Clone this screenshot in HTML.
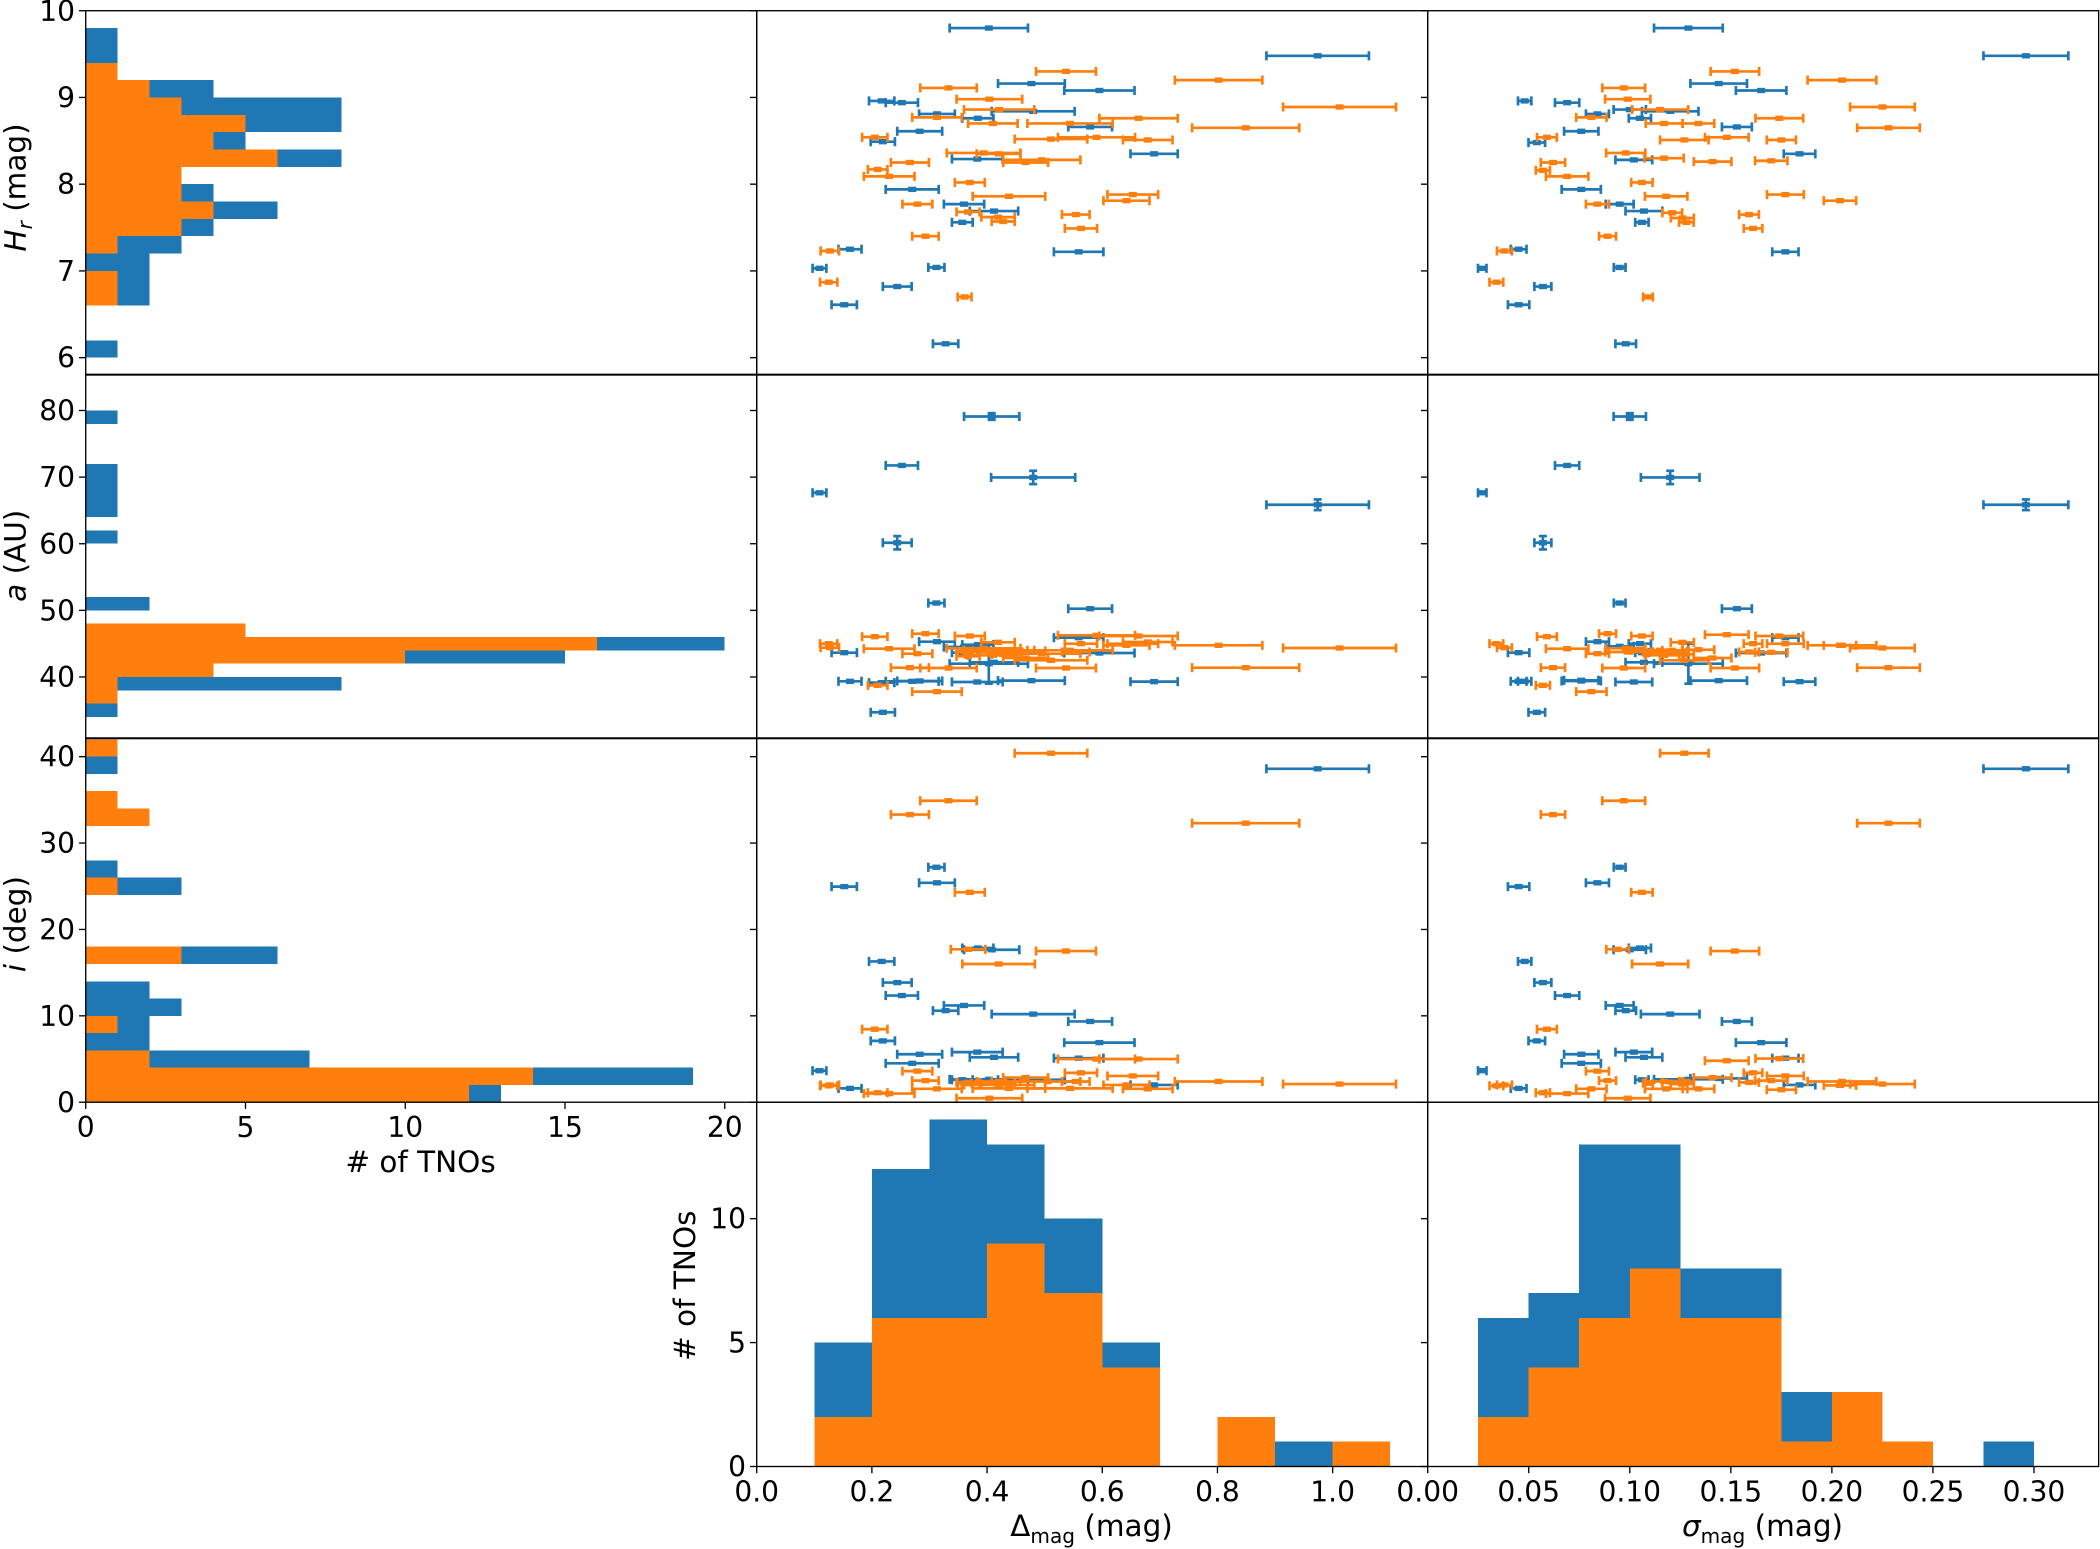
<!DOCTYPE html>
<html><head><meta charset="utf-8">
<style>
html,body{margin:0;padding:0;background:#fff;}
svg{display:block;}
text{font-family:"DejaVu Sans","Liberation Sans",sans-serif;fill:#000;}
</style></head>
<body>
<svg id="fig" xmlns="http://www.w3.org/2000/svg" width="2100" height="1549" viewBox="0 0 1568 1156.6">
<rect x="0" y="0" width="1568" height="1156.6" fill="#fff"/>
</svg>
<script>
// ---------- histogram data ----------
const hrBinStart = [6.0,6.6,6.8,7.0,7.2,7.4,7.6,7.8,8.0,8.2,8.4,8.6,8.8,9.0,9.2,9.4,9.6];
const hrBlue     = [1,2,2,2,3,4,6,4,3,8,5,8,8,4,1,1,1];
const hrOrange   = [0,1,1,0,1,3,4,3,3,6,4,5,3,2,1,0,0];
const aBinStart  = [34,36,38,40,42,44,46,50,60,64,66,68,70,78];
const aBlue      = [1,1,8,4,15,20,5,2,1,1,1,1,1,1];
const aOrange    = [0,1,1,4,10,16,5,0,0,0,0,0,0,0];
const iBinStart  = [0,2,4,6,8,10,12,16,24,26,32,34,38,40];
const iBlue      = [13,19,7,2,2,3,2,6,3,1,2,1,1,1];
const iOrange    = [12,14,2,0,1,0,0,3,1,0,2,1,0,1];
const dmBinStart = [0.1,0.2,0.3,0.4,0.5,0.6,0.7,0.8,0.9,1.0];
const dmBlue     = [5,12,14,13,10,5,0,2,1,1];
const dmOrange   = [2,6,6,9,7,4,0,2,0,1];
const sgBinStart = [0.025,0.05,0.075,0.1,0.125,0.15,0.175,0.2,0.225,0.25,0.275];
const sgBlue     = [6,7,13,13,8,8,3,3,1,0,1];
const sgOrange   = [2,4,6,8,6,6,1,3,1,0,0];
// ---------- scatter data: [x, xerr, y, (yerr)] ----------
const hrDmagBlue = [[0.403,0.068,9.80],[0.974,0.089,9.48],[0.477,0.058,9.16],[0.595,0.061,9.08],[0.217,0.022,8.96],[0.252,0.028,8.94],[0.313,0.031,8.81],[0.480,0.072,8.84],[0.384,0.027,8.76],[0.579,0.038,8.66],[0.283,0.039,8.61],[0.219,0.021,8.49],[0.690,0.041,8.35],[0.383,0.044,8.29],[0.270,0.046,7.94],[0.360,0.035,7.77],[0.412,0.042,7.69],[0.357,0.018,7.56],[0.162,0.020,7.25],[0.559,0.043,7.22],[0.109,0.012,7.03],[0.312,0.014,7.04],[0.244,0.025,6.82],[0.152,0.022,6.61],[0.328,0.022,6.16]];
const hrDmagOrange = [[0.537,0.052,9.30],[0.802,0.076,9.20],[0.333,0.049,9.11],[0.404,0.057,8.98],[1.012,0.098,8.89],[0.421,0.061,8.86],[0.313,0.043,8.77],[0.663,0.068,8.76],[0.410,0.043,8.70],[0.544,0.074,8.70],[0.849,0.093,8.65],[0.205,0.022,8.54],[0.511,0.063,8.52],[0.590,0.067,8.54],[0.679,0.043,8.51],[0.394,0.064,8.36],[0.266,0.033,8.25],[0.495,0.067,8.28],[0.467,0.039,8.25],[0.210,0.017,8.17],[0.230,0.044,8.09],[0.370,0.026,8.02],[0.438,0.063,7.86],[0.653,0.044,7.88],[0.642,0.040,7.81],[0.279,0.026,7.77],[0.367,0.020,7.68],[0.419,0.029,7.62],[0.428,0.020,7.57],[0.554,0.024,7.65],[0.563,0.028,7.49],[0.293,0.023,7.40],[0.127,0.016,7.23],[0.125,0.015,6.87],[0.361,0.012,6.70],[0.420,0.038,8.35]];
const aDmagBlue = [[0.408,0.048,79.1,0.5],[0.252,0.028,71.75],[0.480,0.073,69.95,1],[0.109,0.012,67.65],[0.974,0.089,65.85,0.8],[0.244,0.025,60.15,1],[0.312,0.014,51.1],[0.579,0.038,50.25],[0.559,0.043,45.9],[0.313,0.031,45.3],[0.384,0.027,44.85],[0.360,0.035,44.5],[0.152,0.022,43.65],[0.357,0.018,43.65],[0.595,0.061,43.6],[0.403,0.068,42.0,3],[0.162,0.020,39.35],[0.217,0.022,39.15],[0.283,0.039,39.4],[0.270,0.046,39.35],[0.383,0.044,39.25],[0.477,0.058,39.45],[0.690,0.041,39.3],[0.412,0.042,42.2],[0.219,0.021,34.7]];
const aDmagOrange = [[0.205,0.022,46.05],[0.293,0.023,46.5],[0.370,0.026,46.15],[0.590,0.067,46.25],[0.663,0.068,46.15],[0.419,0.029,45.2],[0.125,0.015,45.0],[0.127,0.016,44.4],[0.230,0.044,44.25],[0.563,0.028,45.0],[0.679,0.043,45.25],[0.653,0.044,45.0],[0.802,0.076,44.75],[1.012,0.098,44.35],[0.279,0.026,43.5],[0.394,0.064,44.3],[0.404,0.057,43.75],[0.438,0.063,43.9],[0.410,0.043,43.25],[0.544,0.074,44.0],[0.495,0.067,43.5],[0.467,0.039,42.85],[0.511,0.063,42.5],[0.266,0.033,41.4],[0.333,0.049,41.35],[0.537,0.052,41.35],[0.849,0.093,41.4],[0.642,0.040,44.75],[0.210,0.017,38.75],[0.313,0.043,37.8],[0.367,0.020,43.1],[0.428,0.020,43.4],[0.554,0.024,43.75],[0.361,0.012,43.8],[0.420,0.038,43.7],[0.421,0.061,44.0]];
const iDmagBlue = [[0.974,0.089,38.6],[0.312,0.014,27.2],[0.152,0.022,24.96],[0.313,0.031,25.4],[0.384,0.027,17.85],[0.408,0.048,17.65],[0.217,0.022,16.3],[0.244,0.025,13.85],[0.252,0.028,12.35],[0.360,0.035,11.2],[0.328,0.022,10.6],[0.480,0.072,10.2],[0.579,0.038,9.35],[0.219,0.021,7.1],[0.595,0.061,6.9],[0.283,0.039,5.55],[0.383,0.044,5.8],[0.412,0.042,5.2],[0.559,0.043,5.1],[0.270,0.046,4.5],[0.109,0.012,3.65],[0.162,0.020,1.6],[0.403,0.068,2.65],[0.690,0.041,2.0],[0.477,0.058,2.6],[0.357,0.018,2.6]];
const iDmagOrange = [[0.511,0.063,40.4],[0.333,0.049,34.9],[0.266,0.033,33.3],[0.849,0.093,32.3],[0.370,0.026,24.3],[0.367,0.030,17.7],[0.537,0.052,17.5],[0.420,0.063,16.0],[0.205,0.022,8.45],[0.590,0.067,5.0],[0.663,0.068,5.0],[0.279,0.026,3.6],[0.563,0.028,3.4],[0.293,0.023,2.5],[0.653,0.044,3.04],[0.467,0.039,2.85],[0.802,0.076,2.4],[1.012,0.098,2.1],[0.125,0.015,1.9],[0.127,0.016,2.0],[0.230,0.044,1.0],[0.210,0.017,1.1],[0.313,0.043,1.55],[0.404,0.057,0.46],[0.438,0.063,1.6],[0.544,0.074,1.6],[0.679,0.043,1.55],[0.642,0.040,2.0],[0.367,0.020,2.3],[0.419,0.029,2.1],[0.428,0.020,2.4],[0.554,0.024,2.4],[0.361,0.012,2.2],[0.420,0.038,2.4],[0.421,0.061,2.0],[0.505,0.057,2.4]];
const hrSigBlue = [[0.129,0.017,9.80],[0.296,0.021,9.48],[0.144,0.014,9.16],[0.165,0.0125,9.08],[0.048,0.0033,8.96],[0.069,0.006,8.94],[0.084,0.0057,8.81],[0.120,0.014,8.84],[0.105,0.0055,8.76],[0.153,0.0074,8.66],[0.076,0.0085,8.61],[0.054,0.0041,8.48],[0.184,0.0078,8.35],[0.102,0.0091,8.28],[0.076,0.0097,7.94],[0.095,0.0069,7.77],[0.107,0.0091,7.69],[0.106,0.0033,7.56],[0.045,0.0039,7.25],[0.177,0.0065,7.22],[0.027,0.0021,7.03],[0.095,0.0029,7.04],[0.057,0.0042,6.82],[0.045,0.0053,6.61],[0.098,0.0051,6.16],[0.100,0.008,8.86]];
const hrSigOrange = [[0.152,0.012,9.30],[0.205,0.017,9.20],[0.097,0.0106,9.11],[0.099,0.0112,8.98],[0.225,0.016,8.89],[0.115,0.0139,8.86],[0.081,0.0075,8.77],[0.174,0.0118,8.76],[0.117,0.0091,8.70],[0.134,0.0078,8.70],[0.228,0.0155,8.65],[0.059,0.0049,8.54],[0.127,0.012,8.51],[0.148,0.0108,8.54],[0.175,0.0072,8.51],[0.098,0.0097,8.36],[0.062,0.006,8.25],[0.117,0.0097,8.30],[0.141,0.0093,8.26],[0.057,0.0035,8.16],[0.069,0.0105,8.09],[0.106,0.0053,8.02],[0.118,0.0105,7.86],[0.177,0.0091,7.88],[0.204,0.008,7.81],[0.084,0.0057,7.77],[0.121,0.0049,7.67],[0.126,0.0057,7.61],[0.128,0.0036,7.56],[0.159,0.0049,7.65],[0.161,0.0046,7.49],[0.089,0.0042,7.40],[0.038,0.0037,7.23],[0.034,0.0034,6.87],[0.109,0.0024,6.70],[0.170,0.008,8.27]];
const aSigBlue = [[0.100,0.008,79.1,0.5],[0.069,0.006,71.75],[0.120,0.0145,69.95,1],[0.027,0.0021,67.65],[0.296,0.021,65.85,0.8],[0.057,0.0042,60.15,1],[0.095,0.0029,51.1],[0.153,0.0074,50.25],[0.177,0.0065,45.9],[0.084,0.0057,45.3],[0.105,0.0055,45.0],[0.095,0.0069,44.6],[0.045,0.0053,43.65],[0.106,0.0033,43.65],[0.165,0.0125,43.6],[0.129,0.017,42.0,3],[0.107,0.0091,42.2],[0.045,0.0039,39.35],[0.048,0.0033,39.35],[0.076,0.0097,39.4],[0.076,0.0085,39.5],[0.102,0.0091,39.25],[0.144,0.014,39.45],[0.184,0.0078,39.3],[0.054,0.0041,34.7]];
const aSigOrange = [[0.059,0.0049,46.05],[0.089,0.0042,46.5],[0.106,0.0053,46.15],[0.148,0.0108,46.35],[0.174,0.0118,46.15],[0.034,0.0034,45.0],[0.038,0.0037,44.4],[0.069,0.0105,44.25],[0.126,0.0057,45.2],[0.161,0.0046,45.0],[0.177,0.0091,45.0],[0.205,0.017,44.75],[0.225,0.016,44.35],[0.084,0.0057,43.5],[0.098,0.0097,44.3],[0.099,0.0112,43.75],[0.118,0.0105,43.9],[0.117,0.0091,43.25],[0.134,0.0078,44.1],[0.117,0.0097,43.5],[0.141,0.0093,42.85],[0.127,0.012,42.5],[0.062,0.006,41.4],[0.097,0.0106,41.35],[0.152,0.012,41.35],[0.228,0.0155,41.4],[0.204,0.008,44.75],[0.057,0.0035,38.75],[0.081,0.0075,37.8],[0.121,0.0049,44.0],[0.159,0.0049,43.75],[0.128,0.0036,43.4],[0.109,0.0024,43.8],[0.115,0.0139,44.0],[0.170,0.008,43.7]];
const iSigBlue = [[0.296,0.021,38.6],[0.095,0.0029,27.2],[0.045,0.0053,24.96],[0.084,0.0057,25.4],[0.105,0.0055,17.85],[0.100,0.008,17.65],[0.048,0.0033,16.3],[0.057,0.0042,13.85],[0.069,0.006,12.35],[0.095,0.0069,11.2],[0.098,0.0051,10.6],[0.120,0.0145,10.2],[0.153,0.0074,9.35],[0.054,0.0041,7.1],[0.165,0.0125,6.9],[0.076,0.0085,5.55],[0.102,0.0091,5.8],[0.107,0.0091,5.2],[0.177,0.0065,5.1],[0.076,0.0097,4.5],[0.027,0.0021,3.65],[0.045,0.0039,1.6],[0.129,0.017,2.65],[0.184,0.0078,2.0],[0.144,0.014,2.75],[0.106,0.0033,2.6]];
const iSigOrange = [[0.127,0.012,40.4],[0.097,0.0106,34.9],[0.062,0.006,33.3],[0.228,0.0155,32.3],[0.106,0.0053,24.3],[0.094,0.0056,17.7],[0.152,0.012,17.5],[0.115,0.0139,16.0],[0.059,0.0049,8.45],[0.148,0.0108,4.8],[0.174,0.0118,5.05],[0.084,0.0057,3.6],[0.161,0.0046,3.4],[0.089,0.0042,2.5],[0.177,0.0091,3.04],[0.141,0.0093,2.85],[0.205,0.017,2.4],[0.225,0.016,2.1],[0.034,0.0034,1.9],[0.038,0.0037,2.0],[0.069,0.0105,1.0],[0.057,0.0035,1.1],[0.081,0.0075,1.55],[0.099,0.0112,0.46],[0.118,0.0105,1.55],[0.134,0.0078,1.55],[0.175,0.0072,1.45],[0.204,0.008,1.95],[0.121,0.0049,2.3],[0.126,0.0057,2.1],[0.128,0.0036,2.4],[0.159,0.0049,2.3],[0.109,0.0024,2.2],[0.117,0.0091,2.4],[0.170,0.008,2.5]];
// ---------- tick labels ----------
const hrTicks = [6,7,8,9,10];
const aTicks = [40,50,60,70,80];
const iTicks = [0,10,20,30,40];
const countTicksX = [0,5,10,15,20];
const countTicksY = [0,5,10];
const dmTicks = ['0.0','0.2','0.4','0.6','0.8','1.0'];
const sgTicks = ['0.00','0.05','0.10','0.15','0.20','0.25','0.30'];

const NS='http://www.w3.org/2000/svg';
const svg=document.getElementById('fig');
const BLUE='#1f77b4', ORANGE='#ff7f0e';
function mk(tag,attrs,parent){const e=document.createElementNS(NS,tag);for(const k in attrs)e.setAttribute(k,attrs[k]);(parent||svg).appendChild(e);return e;}
function lin(d0,d1,p0,p1){return v=>p0+(v-d0)*(p1-p0)/(d1-d0);}

const COLX=[64,565,1066], ROWY=[8,279.5,551,823], W=501, H=272;
const sHr=lin(5.8,10,ROWY[0]+H,ROWY[0]);
const sA=lin(30.75,85.43,ROWY[1]+H,ROWY[1]);
const sI=lin(0,42.17,ROWY[2]+H,ROWY[2]);
const sCntX=lin(0,21,COLX[0],COLX[0]+W);
const sCntY=lin(0,14.7,ROWY[3]+H,ROWY[3]);
const sDm=lin(0,1.165,COLX[1],COLX[1]+W);
const sSg=lin(0,0.332,COLX[2],COLX[2]+W);

function hHist(g,starts,width,blue,orange,ys,name){
  starts.forEach((s,k)=>{
    const y1=ys(s+width), y0=ys(s);
    if(blue[k]>0){const r=mk('rect',{x:sCntX(0),y:y1,width:sCntX(blue[k])-sCntX(0),height:y0-y1,fill:BLUE,'shape-rendering':'crispEdges'},g);
      
      }
    if(orange[k]>0){const r=mk('rect',{x:sCntX(0),y:y1,width:sCntX(orange[k])-sCntX(0),height:y0-y1,fill:ORANGE,'shape-rendering':'crispEdges'},g);
      
      }
  });
}
function vHist(g,starts,width,blue,orange,xs,name){
  starts.forEach((s,k)=>{
    const x0=xs(s), x1=xs(s+width);
    if(blue[k]>0){const r=mk('rect',{x:x0,y:sCntY(blue[k]),width:x1-x0,height:sCntY(0)-sCntY(blue[k]),fill:BLUE,'shape-rendering':'crispEdges'},g);
      
      }
    if(orange[k]>0){const r=mk('rect',{x:x0,y:sCntY(orange[k]),width:x1-x0,height:sCntY(0)-sCntY(orange[k]),fill:ORANGE,'shape-rendering':'crispEdges'},g);
      
      }
  });
}
function scatter(g,pts,xs,ys,col,name){
  pts.forEach(p=>{
    const gg=mk('g',{stroke:col,'stroke-width':2,fill:col},g);
    
    
    const cx=xs(p[0]), cy=ys(p[2]), xl=xs(p[0]-p[1]), xr=xs(p[0]+p[1]);
    mk('line',{x1:xl,y1:cy,x2:xr,y2:cy},gg);
    mk('line',{x1:xl,y1:cy-3.4,x2:xl,y2:cy+3.4},gg);
    mk('line',{x1:xr,y1:cy-3.4,x2:xr,y2:cy+3.4},gg);
    if(p[3]){const yt=ys(p[2]+p[3]), yb=ys(p[2]-p[3]);
      mk('line',{x1:cx,y1:yt,x2:cx,y2:yb},gg);
      mk('line',{x1:cx-3,y1:yt,x2:cx+3,y2:yt},gg);
      mk('line',{x1:cx-3,y1:yb,x2:cx+3,y2:yb},gg);}
    mk('rect',{x:cx-3,y:cy-2,width:6,height:4,stroke:'none'},gg);
  });
}
function frame(x,y,name){const r=mk('rect',{x:x,y:y,width:W,height:H,fill:'none',stroke:'#000','stroke-width':1});
  
  }
function yTicks(x,vals,ys,labels,name){
  const g=mk('g',{});
  
  
  vals.forEach(v=>{const y=ys(v);mk('line',{x1:x-5,y1:y,x2:x,y2:y,stroke:'#000','stroke-width':1},g);
    if(labels){const t=mk('text',{x:x-8,y:y+7.5,'text-anchor':'end','font-size':21},g);t.textContent=String(v);}});
}
function xTicks(y,vals,labs,xs,name){
  const g=mk('g',{});
  
  
  vals.forEach((v,k)=>{const x=xs(v);mk('line',{x1:x,y1:y,x2:x,y2:y+5,stroke:'#000','stroke-width':1},g);
    const t=mk('text',{x:x,y:y+26,'text-anchor':'middle','font-size':21},g);t.textContent=labs[k];});
}

let g=mk('g',{});
hHist(g,hrBinStart,0.2,hrBlue,hrOrange,sHr,'hr-hist');
g=mk('g',{});
hHist(g,aBinStart,2,aBlue,aOrange,sA,'a-hist');
g=mk('g',{});
hHist(g,iBinStart,2,iBlue,iOrange,sI,'i-hist');
g=mk('g',{});
vHist(g,dmBinStart,0.1,dmBlue,dmOrange,sDm,'dmag-hist');
g=mk('g',{});
vHist(g,sgBinStart,0.025,sgBlue,sgOrange,sSg,'sigma-hist');
const panels=[
 [hrDmagBlue,hrDmagOrange,sDm,sHr,'hr-vs-dmag'],[hrSigBlue,hrSigOrange,sSg,sHr,'hr-vs-sigma'],
 [aDmagBlue,aDmagOrange,sDm,sA,'a-vs-dmag'],[aSigBlue,aSigOrange,sSg,sA,'a-vs-sigma'],
 [iDmagBlue,iDmagOrange,sDm,sI,'i-vs-dmag'],[iSigBlue,iSigOrange,sSg,sI,'i-vs-sigma']];
panels.forEach(p=>{const gp=mk('g',{});
  
  
  scatter(gp,p[0],p[2],p[3],BLUE,p[4]+'-blue-point');
  scatter(gp,p[1],p[2],p[3],ORANGE,p[4]+'-orange-point');});

const rowNames=['hr','a','i'];
for(let r=0;r<3;r++)for(let c=0;c<3;c++)frame(COLX[c],ROWY[r],'panel-'+rowNames[r]+'-'+c);
frame(COLX[1],ROWY[3],'panel-dmag-hist');frame(COLX[2],ROWY[3],'panel-sigma-hist');

yTicks(COLX[0],hrTicks,sHr,true,'hr-y-ticks');
yTicks(COLX[0],aTicks,sA,true,'a-y-ticks');
yTicks(COLX[0],iTicks,sI,true,'i-y-ticks');
[1,2].forEach(c=>{yTicks(COLX[c],hrTicks,sHr,false,'hr-ticks-'+c);yTicks(COLX[c],aTicks,sA,false,'a-ticks-'+c);yTicks(COLX[c],iTicks,sI,false,'i-ticks-'+c);});
yTicks(COLX[1],countTicksY,sCntY,true,'count-y-ticks');
yTicks(COLX[2],countTicksY,sCntY,false,'count-y-ticks-2');
xTicks(ROWY[2]+H,countTicksX,countTicksX.map(String),sCntX,'count-x-ticks');
xTicks(ROWY[3]+H,dmTicks.map(Number),dmTicks,sDm,'dmag-x-ticks');
xTicks(ROWY[3]+H,sgTicks.map(Number),sgTicks,sSg,'sigma-x-ticks');
</script>
<svg style="position:absolute;left:0;top:0" width="2100" height="1549" viewBox="0 0 1568 1156.6">
<text transform="translate(19,140) rotate(-90)" text-anchor="middle" font-size="22" font-family="DejaVu Sans, sans-serif"><tspan font-style="italic">H</tspan><tspan font-style="italic" font-size="15" dy="5">r</tspan><tspan dy="-5"> (mag)</tspan></text>
<text transform="translate(19,415) rotate(-90)" text-anchor="middle" font-size="22" font-family="DejaVu Sans, sans-serif"><tspan font-style="italic">a</tspan> (AU)</text>
<text transform="translate(19,690) rotate(-90)" text-anchor="middle" font-size="22" font-family="DejaVu Sans, sans-serif"><tspan font-style="italic">i</tspan> (deg)</text>
<text x="314" y="875" text-anchor="middle" font-size="22" font-family="DejaVu Sans, sans-serif"># of TNOs</text>
<text transform="translate(519,960) rotate(-90)" text-anchor="middle" font-size="22" font-family="DejaVu Sans, sans-serif"># of TNOs</text>
<text x="815" y="1147" text-anchor="middle" font-size="22" font-family="DejaVu Sans, sans-serif">Δ<tspan font-size="15" dy="5">mag</tspan><tspan dy="-5"> (mag)</tspan></text>
<text x="1316" y="1147" text-anchor="middle" font-size="22" font-family="DejaVu Sans, sans-serif"><tspan font-style="italic">σ</tspan><tspan font-size="15" dy="5">mag</tspan><tspan dy="-5"> (mag)</tspan></text>
</svg>
</body></html>
